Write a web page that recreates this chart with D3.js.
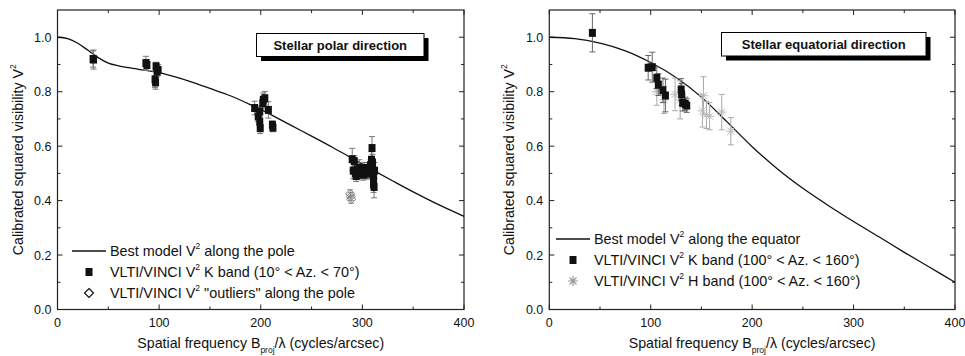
<!DOCTYPE html>
<html>
<head>
<meta charset="utf-8">
<script src="https://cdn.jsdelivr.net/npm/d3@7"></script>
<style>
  body { margin: 0; background: #fff; }
  svg text { font-family: "Liberation Sans", Arial, sans-serif; fill: #111; }
</style>
</head>
<body>
<div id="chart"></div>
<script>
  // ---- data ----
  const xTicks = [0, 100, 200, 300, 400];
  const yTicks = [0.0, 0.2, 0.4, 0.6, 0.8, 1.0];

  // left panel: stellar polar direction
  const polarModelFreq = [0, 10, 20, 30, 40, 50, 60, 70, 85, 100, 115, 130, 150, 170, 190, 210, 230, 250, 270, 290, 310, 330, 350, 375, 400];
  const polarModelV2 = [1.0, 0.995, 0.978, 0.952, 0.925, 0.905, 0.895, 0.888, 0.879, 0.870, 0.855, 0.838, 0.812, 0.785, 0.752, 0.716, 0.676, 0.637, 0.597, 0.555, 0.513, 0.472, 0.432, 0.385, 0.342];

  const polarKFreq = [35, 35.5, 87, 88, 97, 99, 98, 96, 96.5,
    194, 199, 197.5, 199, 199.5, 202.5, 204, 202, 207.5, 211.5, 212,
    290, 292, 291, 293, 294, 295, 296, 297, 298, 299, 300, 301, 302, 303, 304, 305, 306, 307, 308, 309, 309.5, 310, 310, 310.5, 311, 311, 311, 311.5, 312];
  const polarKV2 = [0.92, 0.918, 0.905, 0.898, 0.893, 0.88, 0.874, 0.845, 0.834,
    0.74, 0.727, 0.709, 0.69, 0.666, 0.77, 0.776, 0.757, 0.733, 0.678, 0.668,
    0.552, 0.545, 0.51, 0.50, 0.49, 0.515, 0.50, 0.52, 0.505, 0.50, 0.51, 0.495, 0.52, 0.505, 0.50, 0.51, 0.52, 0.50, 0.53, 0.55, 0.593, 0.54, 0.52, 0.50, 0.49, 0.475, 0.46, 0.45, 0.51];
  const polarKErr = [0.03, 0.035, 0.025, 0.02, 0.015, 0.02, 0.02, 0.03, 0.025,
    0.025, 0.02, 0.02, 0.02, 0.02, 0.025, 0.025, 0.02, 0.03, 0.015, 0.015,
    0.04, 0.02, 0.03, 0.02, 0.02, 0.02, 0.02, 0.03, 0.02, 0.02, 0.02, 0.02, 0.02, 0.02, 0.02, 0.03, 0.02, 0.02, 0.02, 0.03, 0.042, 0.03, 0.03, 0.03, 0.03, 0.03, 0.03, 0.04, 0.03];

  const polarOutFreq = [288, 288.5, 289];
  const polarOutV2 = [0.425, 0.415, 0.405];
  const polarOutErr = [0.015, 0.015, 0.015];

  // right panel: stellar equatorial direction
  const eqModelFreq = [0, 25, 50, 75, 100, 125, 150, 175, 200, 225, 250, 275, 300, 325, 350, 375, 400];
  const eqModelV2 = [1.0, 0.995, 0.978, 0.950, 0.907, 0.852, 0.78, 0.69, 0.598, 0.516, 0.445, 0.382, 0.323, 0.267, 0.21, 0.155, 0.10];

  const eqKFreq = [42.5, 97.5, 101.5, 106, 107.5, 112, 114.5, 130, 130.5, 131.5, 135.5, 134];
  const eqKV2 = [1.016, 0.888, 0.89, 0.851, 0.826, 0.805, 0.786, 0.808, 0.79, 0.759, 0.749, 0.755];
  const eqKErr = [0.07, 0.045, 0.055, 0.04, 0.04, 0.045, 0.06, 0.04, 0.04, 0.03, 0.025, 0.025];

  const eqHFreq = [106, 113, 124, 129, 152, 151, 155, 158, 170, 179];
  const eqHV2 = [0.80, 0.77, 0.79, 0.77, 0.785, 0.73, 0.715, 0.71, 0.725, 0.655];
  const eqHErr = [0.05, 0.05, 0.06, 0.07, 0.07, 0.06, 0.05, 0.05, 0.065, 0.05];

  const W = 965, H = 356;
  const svg = d3.select("#chart").append("svg")
    .attr("width", W)
    .attr("height", H);

  function zip(fs, vs, es) {
    return fs.map((f, i) => ({ f: f, v: vs[i], e: es ? es[i] : 0 }));
  }

  function drawPanel(cfg) {
    const x = d3.scaleLinear().domain([0, 400]).range([cfg.x0, cfg.x1]);
    const y = d3.scaleLinear().domain([0, 1.1]).range([309.5, 10]);
    const g = svg.append("g");

    // frame
    g.append("rect")
      .attr("x", x(0)).attr("y", y(1.1))
      .attr("width", x(400) - x(0)).attr("height", y(0) - y(1.1))
      .attr("fill", "none").attr("stroke", "#222").attr("stroke-width", 1.2);

    // inside ticks on four sides
    const xMinor = d3.range(50, 400, 100);
    const yMinor = d3.range(0.1, 1.1, 0.2);
    const tk = g.append("g").attr("stroke", "#222").attr("stroke-width", 1);
    xTicks.concat(xMinor).forEach(t => {
      const len = xTicks.includes(t) ? 5 : 3;
      tk.append("line").attr("x1", x(t)).attr("x2", x(t)).attr("y1", y(0)).attr("y2", y(0) - len);
      tk.append("line").attr("x1", x(t)).attr("x2", x(t)).attr("y1", y(1.1)).attr("y2", y(1.1) + len);
    });
    yTicks.concat(yMinor).forEach(t => {
      const len = yTicks.some(m => Math.abs(m - t) < 1e-6) ? 5 : 3;
      tk.append("line").attr("x1", x(0)).attr("x2", x(0) + len).attr("y1", y(t)).attr("y2", y(t));
      tk.append("line").attr("x1", x(400)).attr("x2", x(400) - len).attr("y1", y(t)).attr("y2", y(t));
    });

    g.selectAll(".xl").data(xTicks).join("text")
      .attr("x", d => x(d)).attr("y", y(0) + 17)
      .attr("text-anchor", "middle").style("font-size", "12.5px")
      .text(d => d);
    g.selectAll(".yl").data(yTicks).join("text")
      .attr("x", x(0) - 6).attr("y", d => y(d) + 4.5)
      .attr("text-anchor", "end").style("font-size", "12.5px")
      .text(d => d.toFixed(1));

    // axis titles
    const yt = g.append("text")
      .attr("transform", `translate(${cfg.ylabX},${(y(0) + y(1.1)) / 2}) rotate(-90)`)
      .attr("text-anchor", "middle").style("font-size", "14.2px");
    yt.append("tspan").text("Calibrated squared visibility V");
    yt.append("tspan").attr("dy", -7).style("font-size", "8.5px").text("2");

    const xt = g.append("text")
      .attr("x", (x(0) + x(400)) / 2).attr("y", 348)
      .attr("text-anchor", "middle").style("font-size", "14.2px");
    xt.append("tspan").text("Spatial frequency B");
    xt.append("tspan").attr("dy", 5).style("font-size", "8.5px").text("proj");
    xt.append("tspan").attr("dy", -5).text("/\u03BB (cycles/arcsec)");

    // title box with shadow
    const bx = cfg.box;
    g.append("rect").attr("x", bx.x + 4.5).attr("y", bx.y + 4.5).attr("width", bx.w).attr("height", bx.h).attr("fill", "#000");
    g.append("rect").attr("x", bx.x).attr("y", bx.y).attr("width", bx.w).attr("height", bx.h)
      .attr("fill", "#fff").attr("stroke", "#000").attr("stroke-width", 1);
    g.append("text").attr("x", bx.x + bx.w / 2).attr("y", bx.y + bx.h / 2 + 4.5)
      .attr("text-anchor", "middle").style("font-size", "13px").style("font-weight", "bold")
      .text(cfg.title);

    // model curve
    const line = d3.line().x(d => x(d.f)).y(d => y(d.v)).curve(d3.curveCatmullRom);
    g.append("path").datum(zip(cfg.modelF, cfg.modelV))
      .attr("d", line).attr("fill", "none").attr("stroke", "#111").attr("stroke-width", 1.3);

    // error bars + markers for each data set
    cfg.sets.forEach(s => {
      const pts = zip(s.f, s.v, s.e);
      const eb = g.append("g").attr("stroke", s.errColor).attr("stroke-width", 1);
      pts.forEach(d => {
        eb.append("line").attr("x1", x(d.f)).attr("x2", x(d.f)).attr("y1", y(d.v - d.e)).attr("y2", y(d.v + d.e));
        [d.v - d.e, d.v + d.e].forEach(c => {
          eb.append("line").attr("x1", x(d.f) - 3).attr("x2", x(d.f) + 3).attr("y1", y(c)).attr("y2", y(c));
        });
      });
      g.append("g").selectAll("path").data(pts).join("path")
        .attr("transform", d => `translate(${x(d.f)},${y(d.v)})`)
        .attr("d", s.symbol)
        .attr("fill", s.fill).attr("stroke", s.stroke).attr("stroke-width", s.sw);
    });

    // legend
    const lg = g.append("g");
    cfg.legend.forEach((item, i) => {
      const ly = cfg.legY + i * 21;
      if (item.kind === "line") {
        lg.append("line").attr("x1", cfg.legX - 38).attr("x2", cfg.legX - 4).attr("y1", ly).attr("y2", ly)
          .attr("stroke", "#111").attr("stroke-width", 1.3);
      } else {
        lg.append("path").attr("transform", `translate(${cfg.legX - 21},${ly})`)
          .attr("d", item.symbol).attr("fill", item.fill).attr("stroke", item.stroke).attr("stroke-width", item.sw);
      }
      const t = lg.append("text").attr("x", cfg.legX).attr("y", ly + 5).style("font-size", "14.4px");
      t.append("tspan").text(item.pre);
      t.append("tspan").attr("dy", -7).style("font-size", "8.5px").text("2");
      t.append("tspan").attr("dy", 7).text(item.post);
    });
  }

  const square = "M-3.5,-4H3.5V4H-3.5Z";
  const diamond = "M0,-4.5L4.5,0L0,4.5L-4.5,0Z";
  const asterisk = "M0,-5V5M-5,0H5M-3.5,-3.5L3.5,3.5M-3.5,3.5L3.5,-3.5";

  drawPanel({
    x0: 57.5, x1: 464, ylabX: 23,
    title: "Stellar polar direction",
    box: { x: 256.5, y: 33.5, w: 167.5, h: 23 },
    modelF: polarModelFreq, modelV: polarModelV2,
    sets: [
      { f: polarOutFreq, v: polarOutV2, e: polarOutErr, symbol: diamond, fill: "none", stroke: "#777", sw: 1, errColor: "#999" },
      { f: polarKFreq, v: polarKV2, e: polarKErr, symbol: square, fill: "#111", stroke: "none", sw: 0, errColor: "#777" }
    ],
    legX: 110, legY: 251,
    legend: [
      { kind: "line", pre: "Best model V", post: " along the pole" },
      { kind: "sym", symbol: square, fill: "#111", stroke: "none", sw: 0, pre: "VLTI/VINCI V", post: " K band (10\u00B0 < Az. < 70\u00B0)" },
      { kind: "sym", symbol: diamond, fill: "none", stroke: "#111", sw: 1.2, pre: "VLTI/VINCI V", post: " \"outliers\" along the pole" }
    ]
  });

  drawPanel({
    x0: 549.3, x1: 955, ylabX: 514,
    title: "Stellar equatorial direction",
    box: { x: 721.5, y: 32.5, w: 204.5, h: 23.5 },
    modelF: eqModelFreq, modelV: eqModelV2,
    sets: [
      { f: eqHFreq, v: eqHV2, e: eqHErr, symbol: asterisk, fill: "none", stroke: "#bbb", sw: 1, errColor: "#aaa" },
      { f: eqKFreq, v: eqKV2, e: eqKErr, symbol: square, fill: "#111", stroke: "none", sw: 0, errColor: "#666" }
    ],
    legX: 594, legY: 239,
    legend: [
      { kind: "line", pre: "Best model V", post: " along the equator" },
      { kind: "sym", symbol: square, fill: "#111", stroke: "none", sw: 0, pre: "VLTI/VINCI  V", post: " K band (100\u00B0 < Az. < 160\u00B0)" },
      { kind: "sym", symbol: asterisk, fill: "none", stroke: "#999", sw: 1.2, pre: "VLTI/VINCI  V", post: " H band (100\u00B0 < Az. < 160\u00B0)" }
    ]
  });
</script>
</body>
</html>
